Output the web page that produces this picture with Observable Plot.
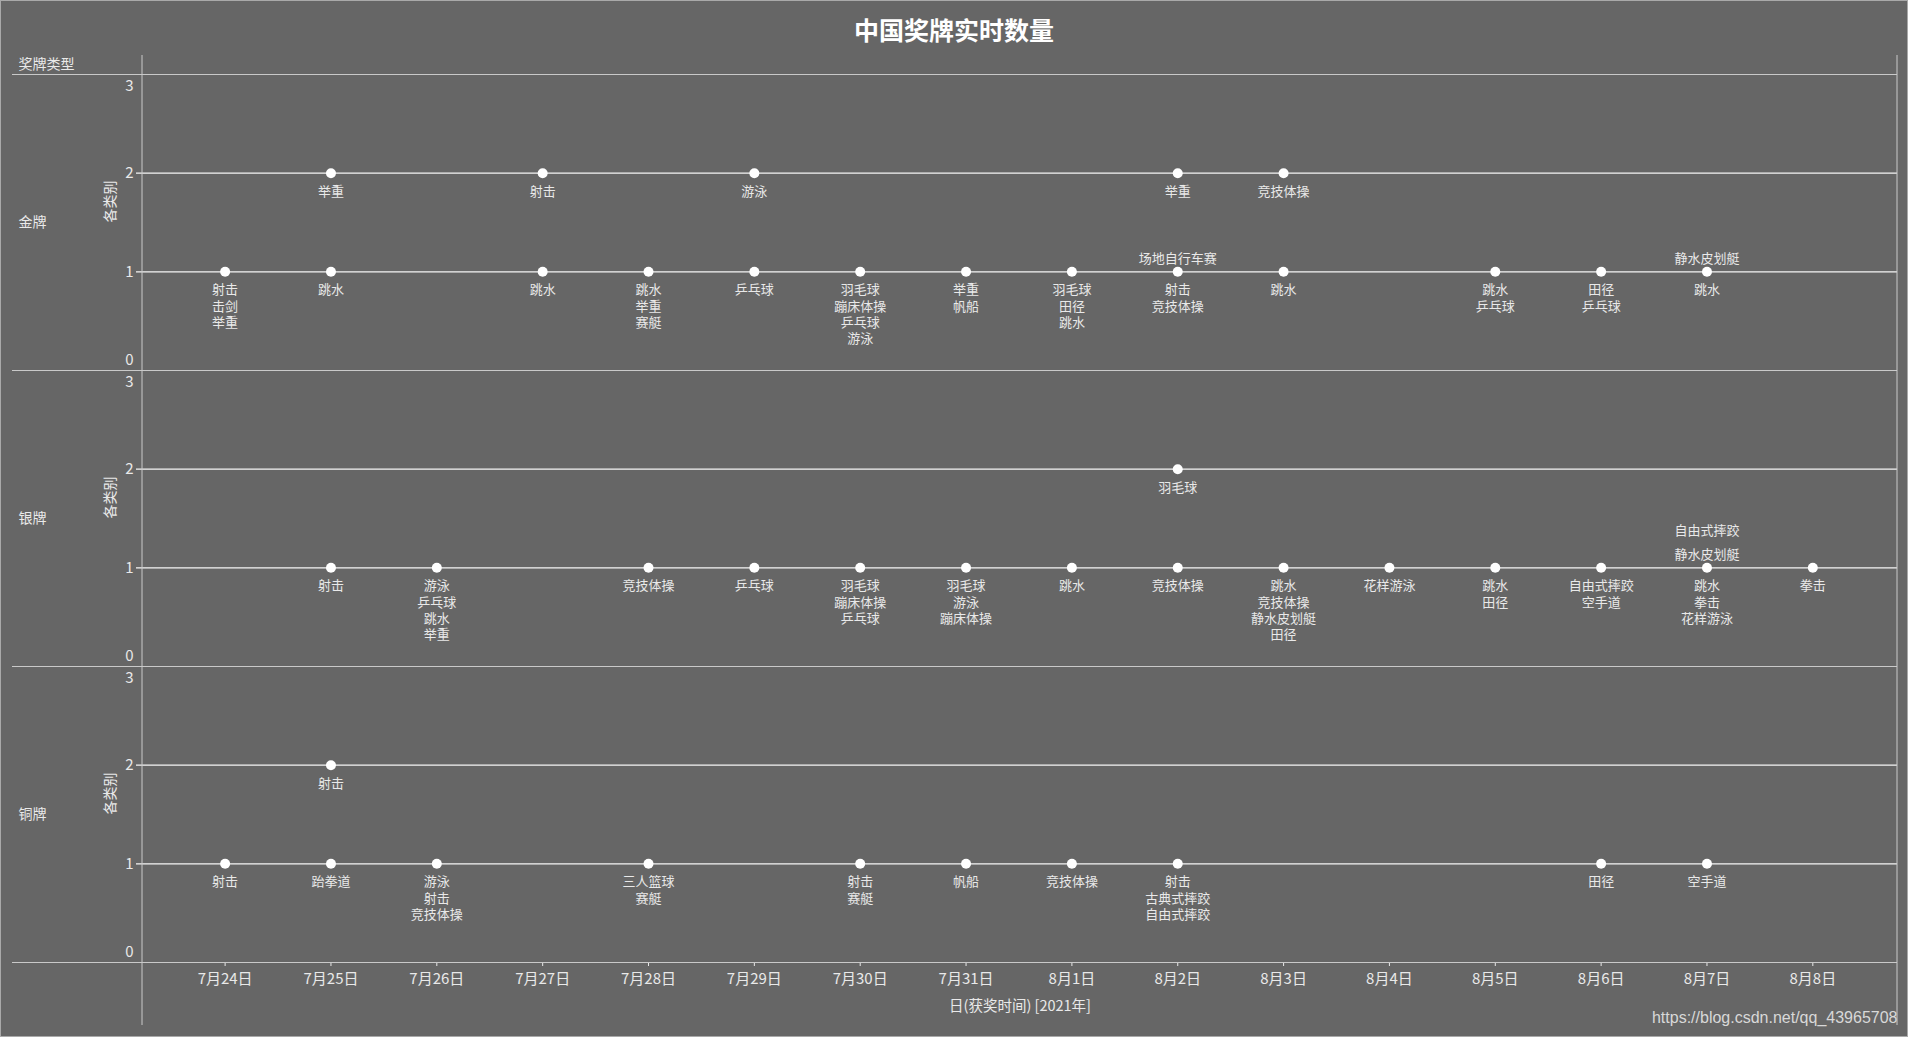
<!DOCTYPE html>
<html>
<head>
<meta charset="utf-8">
<script src="https://cdn.jsdelivr.net/npm/d3@7"></script>
<script src="https://cdn.jsdelivr.net/npm/@observablehq/plot@0.6"></script>
<style>
  html, body { margin: 0; padding: 0; background: #666666; width: 1908px; height: 1037px; overflow: hidden; }
  #frame { position: fixed; left: 0; top: 0; width: 1908px; height: 1037px; box-sizing: border-box; border: 1px solid #a9a9a9; pointer-events: none; }
  #title { height: 50px; text-align: center; color: #ffffff; font: bold 25px "Noto Sans CJK SC", sans-serif; line-height: 58px; white-space: nowrap; overflow: visible; }
  #chart svg { display: block; }
</style>
</head>
<body>
<div id="frame"></div>
<div id="title">中国奖牌实时数量</div>
<div id="chart"></div>
<script>
// ---- data ----
const medalTypes = ["金牌", "银牌", "铜牌"];
const dateTicks = ["2021-07-24","2021-07-25","2021-07-26","2021-07-27","2021-07-28","2021-07-29","2021-07-30","2021-07-31",
                   "2021-08-01","2021-08-02","2021-08-03","2021-08-04","2021-08-05","2021-08-06","2021-08-07","2021-08-08"];
const yTicks = [0, 1, 2, 3];
// [date, count of medals, sports labelled below the point, sports labelled above the point]
const gold = [
  ["2021-07-24", 1, ["射击","击剑","举重"]],
  ["2021-07-25", 2, ["举重"]],
  ["2021-07-25", 1, ["跳水"]],
  ["2021-07-27", 2, ["射击"]],
  ["2021-07-27", 1, ["跳水"]],
  ["2021-07-28", 1, ["跳水","举重","赛艇"]],
  ["2021-07-29", 2, ["游泳"]],
  ["2021-07-29", 1, ["乒乓球"]],
  ["2021-07-30", 1, ["羽毛球","蹦床体操","乒乓球","游泳"]],
  ["2021-07-31", 1, ["举重","帆船"]],
  ["2021-08-01", 1, ["羽毛球","田径","跳水"]],
  ["2021-08-02", 2, ["举重"]],
  ["2021-08-02", 1, ["射击","竞技体操"], ["场地自行车赛"]],
  ["2021-08-03", 2, ["竞技体操"]],
  ["2021-08-03", 1, ["跳水"]],
  ["2021-08-05", 1, ["跳水","乒乓球"]],
  ["2021-08-06", 1, ["田径","乒乓球"]],
  ["2021-08-07", 1, ["跳水"], ["静水皮划艇"]]
];
const silver = [
  ["2021-07-25", 1, ["射击"]],
  ["2021-07-26", 1, ["游泳","乒乓球","跳水","举重"]],
  ["2021-07-28", 1, ["竞技体操"]],
  ["2021-07-29", 1, ["乒乓球"]],
  ["2021-07-30", 1, ["羽毛球","蹦床体操","乒乓球"]],
  ["2021-07-31", 1, ["羽毛球","游泳","蹦床体操"]],
  ["2021-08-01", 1, ["跳水"]],
  ["2021-08-02", 2, ["羽毛球"]],
  ["2021-08-02", 1, ["竞技体操"]],
  ["2021-08-03", 1, ["跳水","竞技体操","静水皮划艇","田径"]],
  ["2021-08-04", 1, ["花样游泳"]],
  ["2021-08-05", 1, ["跳水","田径"]],
  ["2021-08-06", 1, ["自由式摔跤","空手道"]],
  ["2021-08-07", 1, ["跳水","拳击","花样游泳"], ["自由式摔跤","静水皮划艇"]],
  ["2021-08-08", 1, ["拳击"]]
];
const bronze = [
  ["2021-07-24", 1, ["射击"]],
  ["2021-07-25", 2, ["射击"]],
  ["2021-07-25", 1, ["跆拳道"]],
  ["2021-07-26", 1, ["游泳","射击","竞技体操"]],
  ["2021-07-28", 1, ["三人篮球","赛艇"]],
  ["2021-07-30", 1, ["射击","赛艇"]],
  ["2021-07-31", 1, ["帆船"]],
  ["2021-08-01", 1, ["竞技体操"]],
  ["2021-08-02", 1, ["射击","古典式摔跤","自由式摔跤"]],
  ["2021-08-06", 1, ["田径"]],
  ["2021-08-07", 1, ["空手道"]]
];
const headerLabel = "奖牌类型";
const yTitle = "各类别";
const xTitle = "日(获奖时间) [2021年]";
const watermark = "https://blog.csdn.net/qq_43965708";

// ---- build table ----
const parse = d3.timeParse("%Y-%m-%d");
const points = [];
[[medalTypes[0], gold], [medalTypes[1], silver], [medalTypes[2], bronze]].forEach(([medal, rows]) => {
  rows.forEach(([date, count, below, above = []]) => points.push({medal, date: parse(date), count, below, above}));
});
const fmt = d => `${d.getMonth() + 1}月${d.getDate()}日`;

const W = 1908, H = 987;
const mL = 142, mR = 11, mT = 24, mB = 75;
const FONT = '"Noto Sans CJK SC", sans-serif';
const txt = "#e9e9e9";
const sep = "#c9c9c9";

const chart = Plot.plot({
  width: W, height: H,
  marginLeft: mL, marginRight: mR, marginTop: mT, marginBottom: mB,
  style: {background: "transparent", color: txt, fontFamily: FONT, fontSize: "15px"},
  x: {
    type: "time",
    domain: [new Date(2021, 6, 23, 5, 16), new Date(2021, 7, 8, 19, 12)],
    ticks: dateTicks.map(parse), tickFormat: fmt, tickSize: 4, tickPadding: 7, label: null
  },
  y: {domain: [0, 3], axis: null},
  fy: {domain: medalTypes, padding: 0, axis: null, label: null},
  marks: [
    Plot.ruleY([1, 2], {stroke: "#f6f6f6", strokeWidth: 1.2, insetLeft: -6}),
    Plot.ruleY([0, 3], {stroke: sep, strokeWidth: 1, insetLeft: -130}),
    Plot.text(yTicks.filter(d => d > 0 && d < 3), {y: d => d, text: d => String(d), frameAnchor: "left", dx: -9, textAnchor: "end", fill: txt}),
    Plot.text(yTicks.filter(d => d === 3), {y: d => d, text: d => String(d), frameAnchor: "left", dx: -9, textAnchor: "end", lineAnchor: "top", dy: 6, fill: txt}),
    Plot.text(yTicks.filter(d => d === 0), {y: d => d, text: d => String(d), frameAnchor: "left", dx: -9, textAnchor: "end", lineAnchor: "bottom", dy: -6, fill: txt}),
    Plot.text([yTitle], {text: d => d, frameAnchor: "left", dx: -32, rotate: -90, fontSize: 14, fill: txt}),
    Plot.text(medalTypes, {fy: d => d, text: d => d, frameAnchor: "left", dx: -124, textAnchor: "start", fontSize: 14, fill: txt}),
    Plot.text([headerLabel], {fy: () => medalTypes[0], text: d => d, frameAnchor: "top-left", dx: -124, dy: -15, textAnchor: "start", fontSize: 14, fill: txt}),
    Plot.dot(points, {x: "date", y: "count", fy: "medal", r: 5, fill: "#ffffff", stroke: "none"}),
    Plot.text(points.filter(d => d.below.length), {x: "date", y: "count", fy: "medal", text: d => d.below.join("\n"), lineAnchor: "top", dy: 11, fontSize: 13, lineHeight: 1.25, fill: txt}),
    Plot.text(points.filter(d => d.above.length), {x: "date", y: "count", fy: "medal", text: d => d.above.join("\n"), lineAnchor: "bottom", dy: -9, fontSize: 13, lineHeight: 1.8, fill: txt}),
    Plot.text([xTitle], {fy: () => medalTypes[2], text: d => d, frameAnchor: "bottom", dy: 48, fontSize: 14.5, fill: txt}),
    Plot.text([watermark], {fy: () => medalTypes[2], text: d => d, frameAnchor: "bottom-right", dy: 60, textAnchor: "end", fontSize: 16, fill: "#d8d8d8", fontFamily: '"Liberation Sans", Arial, sans-serif'})
  ]
});
document.getElementById("chart").appendChild(chart);

// panel-structure lines (Tableau pane borders)
const svg = d3.select(chart.tagName.toLowerCase() === "svg" ? chart : chart.querySelector("svg"));
[mL, W - mR].forEach(x => {
  svg.append("line").attr("x1", x).attr("x2", x).attr("y1", 5).attr("y2", 975)
    .attr("stroke", sep).attr("stroke-width", 1);
});
</script>
</body>
</html>
